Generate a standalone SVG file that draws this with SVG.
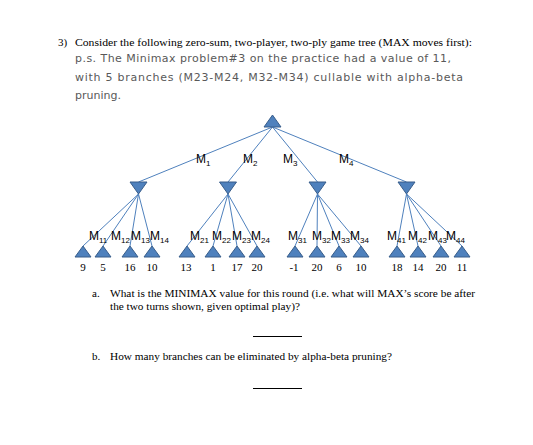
<svg xmlns="http://www.w3.org/2000/svg" width="533" height="445" viewBox="0 0 533 445">
<style>
.ser{font-family:"Liberation Serif","Times New Roman",serif;font-size:11px;fill:#000}
.gray{font-family:"DejaVu Sans","Verdana",sans-serif;font-size:11px;fill:#595959}
.tri{fill:#4F81BD;stroke:#385D8A;stroke-width:1}
.edge{stroke:#4F81BD;stroke-width:1;fill:none}
.lab{font-family:"Liberation Sans",Arial,sans-serif;font-size:12px;fill:#000}
.sub{font-size:8px}
.val{font-family:"Liberation Serif","Times New Roman",serif;font-size:11px;fill:#000;text-anchor:middle}
.blank{stroke:#000;stroke-width:1}
</style>
<rect width="533" height="445" fill="#fff"/>
<g id="header">
<text class="ser" x="58" y="46">3)</text>
<text class="ser" x="75" y="46" textLength="397" lengthAdjust="spacingAndGlyphs">Consider the following zero-sum, two-player, two-ply game tree (MAX moves first):</text>
<text class="gray" x="75" y="62" textLength="376" lengthAdjust="spacing">p.s. The Minimax problem#3 on the practice had a value of 11,</text>
<text class="gray" x="75" y="81" textLength="388" lengthAdjust="spacing">with 5 branches (M23-M24, M32-M34) cullable with alpha-beta</text>
<text class="gray" x="75" y="99">pruning.</text>
</g>
<g id="connectors">
<line class="edge" x1="272.5" y1="127" x2="138.5" y2="182"/>
<line class="edge" x1="272.5" y1="127" x2="228" y2="182"/>
<line class="edge" x1="272.5" y1="127" x2="317.5" y2="182"/>
<line class="edge" x1="272.5" y1="127" x2="406.5" y2="182"/>
<line class="edge" x1="138.5" y1="194" x2="83" y2="246"/>
<line class="edge" x1="138.5" y1="194" x2="103" y2="246"/>
<line class="edge" x1="138.5" y1="194" x2="130" y2="246"/>
<line class="edge" x1="138.5" y1="194" x2="152" y2="246"/>
<line class="edge" x1="228" y1="194" x2="187" y2="246"/>
<line class="edge" x1="228" y1="194" x2="213" y2="246"/>
<line class="edge" x1="228" y1="194" x2="237" y2="246"/>
<line class="edge" x1="228" y1="194" x2="257" y2="246"/>
<line class="edge" x1="317.5" y1="194" x2="295" y2="246"/>
<line class="edge" x1="317.5" y1="194" x2="317" y2="246"/>
<line class="edge" x1="317.5" y1="194" x2="339" y2="246"/>
<line class="edge" x1="317.5" y1="194" x2="361" y2="246"/>
<line class="edge" x1="406.5" y1="194" x2="397" y2="246"/>
<line class="edge" x1="406.5" y1="194" x2="418" y2="246"/>
<line class="edge" x1="406.5" y1="194" x2="441" y2="246"/>
<line class="edge" x1="406.5" y1="194" x2="462" y2="246"/>
</g>
<g id="edge-labels">
<text class="lab" x="196" y="163">M<tspan class="sub" dy="3">1</tspan></text>
<text class="lab" x="243" y="163">M<tspan class="sub" dy="3">2</tspan></text>
<text class="lab" x="283" y="163">M<tspan class="sub" dy="3">3</tspan></text>
<text class="lab" x="339" y="163">M<tspan class="sub" dy="3">4</tspan></text>
<text class="lab" x="89" y="240">M<tspan class="sub" dy="3">11</tspan></text>
<text class="lab" x="111" y="240">M<tspan class="sub" dy="3">12</tspan></text>
<text class="lab" x="131" y="240">M<tspan class="sub" dy="3">13</tspan></text>
<text class="lab" x="150" y="240">M<tspan class="sub" dy="3">14</tspan></text>
<text class="lab" x="190" y="240">M<tspan class="sub" dy="3">21</tspan></text>
<text class="lab" x="212" y="240">M<tspan class="sub" dy="3">22</tspan></text>
<text class="lab" x="232" y="240">M<tspan class="sub" dy="3">23</tspan></text>
<text class="lab" x="251" y="240">M<tspan class="sub" dy="3">24</tspan></text>
<text class="lab" x="288" y="240">M<tspan class="sub" dy="3">31</tspan></text>
<text class="lab" x="312" y="240">M<tspan class="sub" dy="3">32</tspan></text>
<text class="lab" x="331" y="240">M<tspan class="sub" dy="3">33</tspan></text>
<text class="lab" x="350" y="240">M<tspan class="sub" dy="3">34</tspan></text>
<text class="lab" x="387" y="240">M<tspan class="sub" dy="3">41</tspan></text>
<text class="lab" x="408" y="240">M<tspan class="sub" dy="3">42</tspan></text>
<text class="lab" x="428" y="240">M<tspan class="sub" dy="3">43</tspan></text>
<text class="lab" x="446" y="240">M<tspan class="sub" dy="3">44</tspan></text>
</g>
<g id="root"><polygon class="tri" points="272.5,115 264,127 281,127"/></g>
<g id="min1"><polygon class="tri" points="130,182 147,182 138.5,194"/></g>
<g id="min2"><polygon class="tri" points="219.5,182 236.5,182 228,194"/></g>
<g id="min3"><polygon class="tri" points="309,182 326,182 317.5,194"/></g>
<g id="min4"><polygon class="tri" points="398,182 415,182 406.5,194"/></g>
<g id="leaf11"><polygon class="tri" points="83,246 75,257 91,257"/><text class="val" x="83" y="271">9</text></g>
<g id="leaf12"><polygon class="tri" points="103,246 95,257 111,257"/><text class="val" x="103" y="271">5</text></g>
<g id="leaf13"><polygon class="tri" points="130,246 122,257 138,257"/><text class="val" x="130" y="271">16</text></g>
<g id="leaf14"><polygon class="tri" points="152,246 144,257 160,257"/><text class="val" x="152" y="271">10</text></g>
<g id="leaf21"><polygon class="tri" points="187,246 179,257 195,257"/><text class="val" x="186" y="271">13</text></g>
<g id="leaf22"><polygon class="tri" points="213,246 205,257 221,257"/><text class="val" x="213" y="271">1</text></g>
<g id="leaf23"><polygon class="tri" points="237,246 229,257 245,257"/><text class="val" x="237" y="271">17</text></g>
<g id="leaf24"><polygon class="tri" points="257,246 249,257 265,257"/><text class="val" x="257" y="271">20</text></g>
<g id="leaf31"><polygon class="tri" points="295,246 287,257 303,257"/><text class="val" x="294" y="271">-1</text></g>
<g id="leaf32"><polygon class="tri" points="317,246 309,257 325,257"/><text class="val" x="317" y="271">20</text></g>
<g id="leaf33"><polygon class="tri" points="339,246 331,257 347,257"/><text class="val" x="339" y="271">6</text></g>
<g id="leaf34"><polygon class="tri" points="361,246 353,257 369,257"/><text class="val" x="361" y="271">10</text></g>
<g id="leaf41"><polygon class="tri" points="397,246 389,257 405,257"/><text class="val" x="397" y="271">18</text></g>
<g id="leaf42"><polygon class="tri" points="418,246 410,257 426,257"/><text class="val" x="418" y="271">14</text></g>
<g id="leaf43"><polygon class="tri" points="441,246 433,257 449,257"/><text class="val" x="441" y="271">20</text></g>
<g id="leaf44"><polygon class="tri" points="462,246 454,257 470,257"/><text class="val" x="462" y="271">11</text></g>
<g id="questions">
<text class="ser" x="92" y="297">a.</text>
<text class="ser" x="110" y="297" textLength="365" lengthAdjust="spacingAndGlyphs">What is the MINIMAX value for this round (i.e. what will MAX’s score be after</text>
<text class="ser" x="110" y="310" textLength="190" lengthAdjust="spacingAndGlyphs">the two turns shown, given optimal play)?</text>
<line class="blank" x1="253" y1="336.5" x2="302" y2="336.5"/>
<text class="ser" x="92" y="360">b.</text>
<text class="ser" x="110" y="360" textLength="282" lengthAdjust="spacingAndGlyphs">How many branches can be eliminated by alpha-beta pruning?</text>
<line class="blank" x1="253" y1="388.5" x2="302" y2="388.5"/>
</g>
</svg>
